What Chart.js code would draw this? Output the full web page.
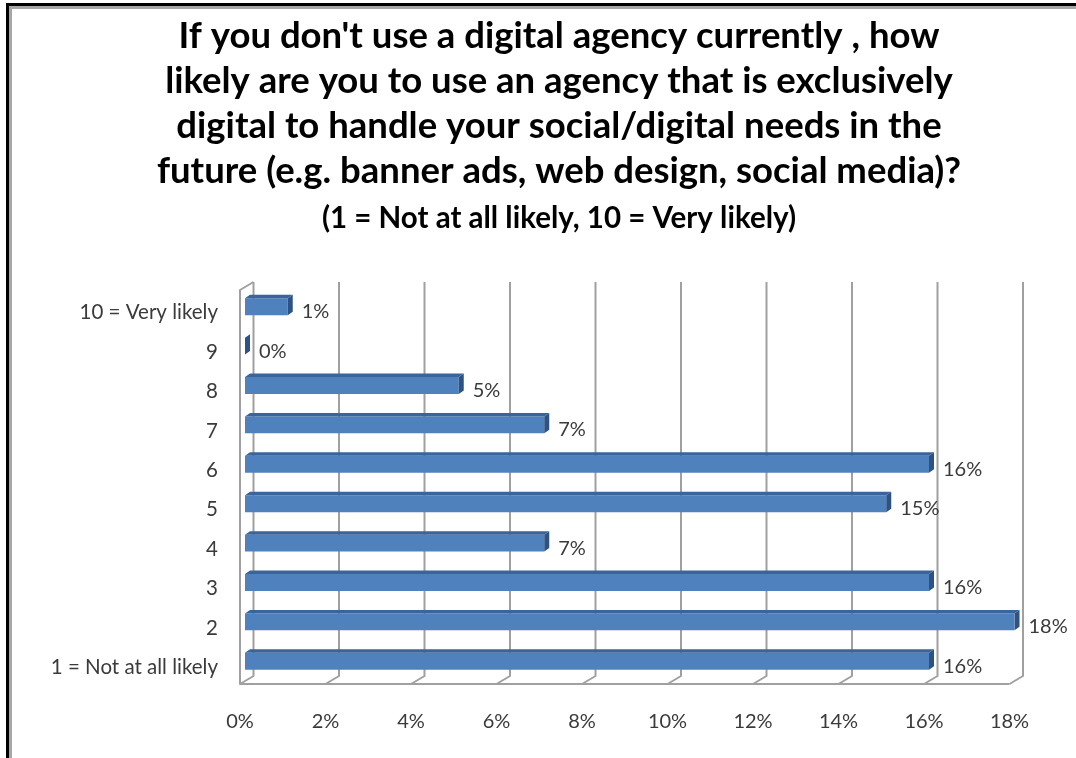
<!DOCTYPE html>
<html>
<head>
<meta charset="utf-8">
<title>Digital agency likelihood</title>
<script src="https://cdn.jsdelivr.net/npm/chart.js@4.4.1/dist/chart.umd.min.js"></script>
<style>
  html, body { margin: 0; padding: 0; background: #fff; overflow: hidden; }
  .frame { position: absolute; left: 6px; top: 3px; right: -20px; bottom: -20px;
           border-left: 3px solid #000; border-top: 3px solid #000; }
  .frame-inner { position: absolute; left: 0; top: 0; right: 0; bottom: 0;
                 border-left: 3px solid #a6a6a6; border-top: 3px solid #a6a6a6; }
  #chart { position: absolute; left: 12px; top: 9px; }
</style>
</head>
<body>
<div class="frame"><div class="frame-inner"></div></div>
<canvas id="chart" width="1110" height="749"></canvas>
<script>
// survey answers, bottom to top
const categories = ['1 = Not at all likely', '2', '3', '4', '5', '6', '7', '8', '9', '10 = Very likely'];
const shares = [16, 18, 16, 7, 15, 16, 7, 5, 0, 1];
const xTicks = [0, 2, 4, 6, 8, 10, 12, 14, 16, 18];

const titleLines = [
  "If you don't use a digital agency currently , how",
  'likely are you to use an agency that is exclusively',
  'digital to handle your social/digital needs in the',
  'future (e.g. banner ads, web design, social media)?'
];
const subtitleText = '(1 = Not at all likely, 10 = Very likely)';

const FONT = "Lato, 'Open Sans', sans-serif";
const TEXT = '#3a3a3a';

// offsets of the back wall and the floor front edge from the bar plane
const BACK = { x: 8.5, y: -5 };
const FRONT = { x: -5, y: 3 };
// bar depth
const DX = 5, DY = 3.5;

const bar3d = {
  id: 'bar3d',
  beforeDatasetsDraw(chart) {
    const { ctx, chartArea: a } = chart;
    const xs = chart.scales.x;
    ctx.save();
    ctx.strokeStyle = '#a0a0a0';
    ctx.lineWidth = 2;
    ctx.lineJoin = 'round';
    xTicks.forEach(v => {
      const px = xs.getPixelForValue(v);
      ctx.beginPath();
      ctx.moveTo(px + BACK.x, a.top + BACK.y);
      ctx.lineTo(px + BACK.x, a.bottom + BACK.y);
      ctx.lineTo(px + FRONT.x, a.bottom + FRONT.y);
      ctx.stroke();
    });
    const x0 = xs.getPixelForValue(xTicks[0]);
    const x1 = xs.getPixelForValue(xTicks[xTicks.length - 1]);
    // floor front edge and left wall
    ctx.beginPath();
    ctx.moveTo(x1 + FRONT.x, a.bottom + FRONT.y);
    ctx.lineTo(x0 + FRONT.x, a.bottom + FRONT.y);
    ctx.lineTo(x0 + FRONT.x, a.top + FRONT.y);
    ctx.lineTo(x0 + BACK.x, a.top + BACK.y);
    ctx.stroke();
    ctx.restore();
  },
  afterDatasetsDraw(chart) {
    const ctx = chart.ctx;
    ctx.save();
    chart.getDatasetMeta(0).data.forEach((bar, i) => {
      const { x, y, base, height } = bar.getProps(['x', 'y', 'base', 'height'], true);
      const top = y - height / 2, bottom = y + height / 2;
      // top face
      ctx.fillStyle = '#3a649b';
      ctx.beginPath();
      ctx.moveTo(base, top);
      ctx.lineTo(x, top);
      ctx.lineTo(x + DX, top - DY);
      ctx.lineTo(base + DX, top - DY);
      ctx.closePath();
      ctx.fill();
      // end face
      ctx.fillStyle = '#2e5383';
      ctx.beginPath();
      ctx.moveTo(x, top);
      ctx.lineTo(x + DX, top - DY);
      ctx.lineTo(x + DX, bottom - DY);
      ctx.lineTo(x, bottom);
      ctx.closePath();
      ctx.fill();
      // value label
      ctx.fillStyle = TEXT;
      ctx.font = '20px ' + FONT;
      ctx.textAlign = 'left';
      ctx.textBaseline = 'middle';
      ctx.fillText(shares[i] + '%', x + 14, y + 5);
    });
    ctx.restore();
  }
};

new Chart(document.getElementById('chart'), {
  type: 'bar',
  data: {
    labels: categories,
    datasets: [{
      data: shares,
      backgroundColor: '#4f81bd',
      borderWidth: 0,
      barPercentage: 0.43,
      categoryPercentage: 1
    }]
  },
  options: {
    indexAxis: 'y',
    responsive: false,
    animation: false,
    layout: { padding: { left: 20, right: 36, top: 0, bottom: 24 } },
    plugins: {
      legend: { display: false },
      tooltip: { enabled: false },
      title: {
        display: true,
        text: titleLines,
        color: '#000',
        font: { family: FONT, size: 36.5, weight: 'bold', lineHeight: 45 / 36.5 },
        padding: { top: 5, bottom: 0 }
      },
      subtitle: {
        display: true,
        text: subtitleText,
        color: '#000',
        font: { family: FONT, size: 29.5, weight: 'bold', lineHeight: 30 / 29.5 },
        padding: { top: 9, bottom: 54 }
      }
    },
    scales: {
      x: {
        min: 0,
        max: 18,
        grid: { display: false, drawTicks: false },
        border: { display: false },
        afterBuildTicks: s => { s.ticks = xTicks.map(v => ({ value: v })); },
        afterFit: s => { s.height = 53; },
        ticks: {
          callback: v => v + '%',
          padding: 29,
          labelOffset: -5,
          maxRotation: 0,
          color: TEXT,
          font: { family: FONT, size: 20 }
        }
      },
      y: {
        reverse: true,
        grid: { display: false, drawTicks: false },
        border: { display: false },
        afterFit: s => { s.width = 213; },
        ticks: {
          padding: 27,
          labelOffset: 6,
          color: TEXT,
          font: { family: FONT, size: 20.5 }
        }
      },
      // empty right-hand gutter so the plot ends short of the title's right edge
      gutter: {
        type: 'linear',
        position: 'right',
        grid: { display: false, drawTicks: false },
        border: { display: false },
        ticks: { display: false },
        afterFit: s => { s.width = 71.5; }
      }
    }
  },
  plugins: [bar3d]
});
</script>
</body>
</html>
